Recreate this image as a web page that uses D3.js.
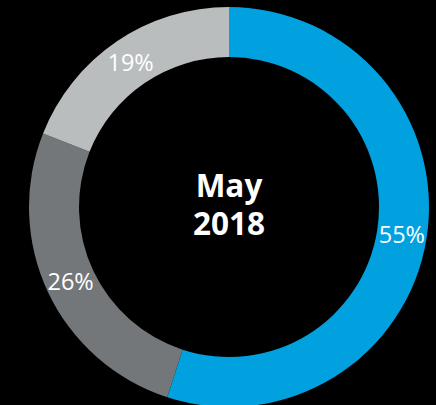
<!DOCTYPE html>
<html>
<head>
<meta charset="utf-8">
<script src="https://cdn.jsdelivr.net/npm/d3@7"></script>
<style>
  html, body { margin: 0; padding: 0; background: #000; }
  svg { display: block; }
</style>
</head>
<body>
<svg id="chart" width="436" height="405"></svg>
<script>
const categories = ["A", "B", "C"];
const values = [55, 26, 19];
const labels = ["55%", "26%", "19%"];
const colors = ["#00a1de", "#737779", "#babdbd"];
const centerLines = ["May", "2018"];

const svg = d3.select("#chart");
const cx = 229, cy = 207, outerR = 200, innerR = 150;
const g = svg.append("g").attr("transform", `translate(${cx},${cy})`);

const pie = d3.pie().sort(null).value(d => d.value);
const data = categories.map((c, i) => ({ cat: c, value: values[i], label: labels[i], color: colors[i] }));
const arcs = pie(data);
const arc = d3.arc().innerRadius(innerR).outerRadius(outerR);
const labelArc = d3.arc().innerRadius(175).outerRadius(175);

g.selectAll("path").data(arcs).join("path")
  .attr("d", arc)
  .attr("fill", d => d.data.color);

g.selectAll("text.lbl").data(arcs).join("text")
  .attr("class", "lbl")
  .attr("transform", d => `translate(${labelArc.centroid(d)})`)
  .attr("text-anchor", "middle")
  .attr("dy", "0.36em")
  .attr("fill", "#fff")
  .style("font-family", "'Open Sans', sans-serif")
  .style("font-size", "23.5px")
  .text(d => d.data.label);

g.append("text")
  .attr("text-anchor", "middle")
  .attr("fill", "#fff")
  .style("font-family", "'Open Sans', sans-serif")
  .style("font-weight", "700")
  .style("font-size", "31.5px")
  .selectAll("tspan").data(centerLines).join("tspan")
  .attr("x", 0)
  .attr("y", (d, i) => -10 + i * 38)
  .text(d => d);
</script>
</body>
</html>
